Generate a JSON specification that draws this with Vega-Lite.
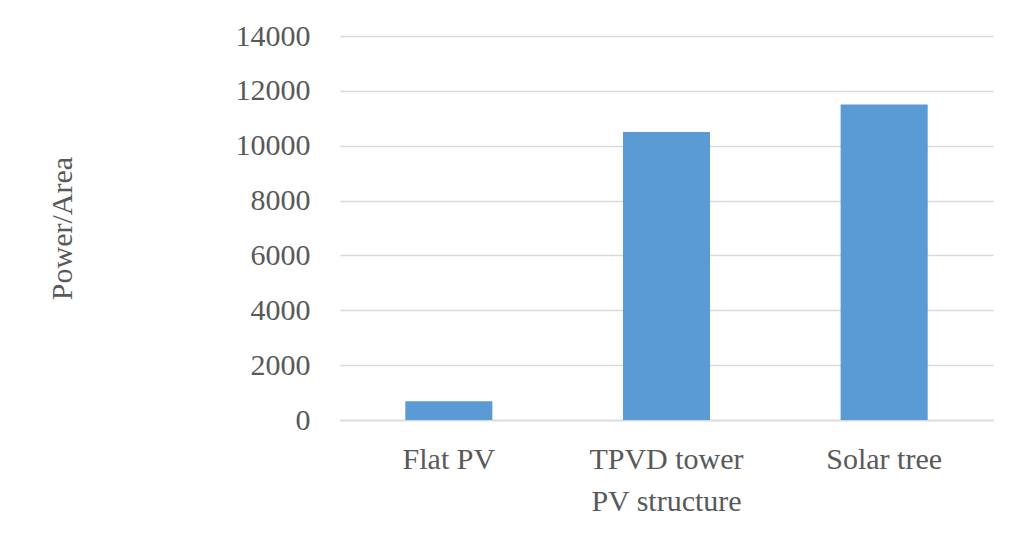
{
  "$schema": "https://vega.github.io/schema/vega-lite/v6.json",
  "width": 653,
  "height": 384,
  "autosize": {"type": "none"},
  "padding": {"left": 340, "top": 36, "right": 18, "bottom": 130},
  "background": "white",
  "config": {
    "view": {"stroke": null},
    "font": "Liberation Serif",
    "axis": {
      "labelFont": "Liberation Serif",
      "titleFont": "Liberation Serif",
      "labelColor": "#595959",
      "titleColor": "#595959",
      "labelFontSize": 30,
      "titleFontSize": 30,
      "titleFontWeight": "normal",
      "ticks": false
    }
  },
  "data": {
    "values": [
      {"structure": "Flat PV", "power": 680},
      {"structure": "TPVD tower PV structure", "power": 10500},
      {"structure": "Solar tree", "power": 11500}
    ]
  },
  "mark": {"type": "bar", "color": "#5b9bd5"},
  "encoding": {
    "x": {
      "field": "structure",
      "type": "nominal",
      "sort": null,
      "scale": {"paddingInner": 0.6, "paddingOuter": 0.3},
      "axis": {
        "title": null,
        "labelAngle": 0,
        "labelPadding": 24,
        "labelBaseline": "top",
        "labelLineHeight": 42,
        "labelExpr": "datum.value == 'TPVD tower PV structure' ? ['TPVD tower', 'PV structure'] : datum.value",
        "domainColor": "#d9d9d9",
        "domainWidth": 1.5,
        "grid": false
      }
    },
    "y": {
      "field": "power",
      "type": "quantitative",
      "scale": {"domain": [0, 14000]},
      "axis": {
        "title": "Power/Area",
        "values": [0, 2000, 4000, 6000, 8000, 10000, 12000, 14000],
        "format": "d",
        "domain": false,
        "grid": true,
        "gridColor": "#d9d9d9",
        "gridWidth": 1.5,
        "labelPadding": 30,
        "titlePadding": 158
      }
    }
  }
}
